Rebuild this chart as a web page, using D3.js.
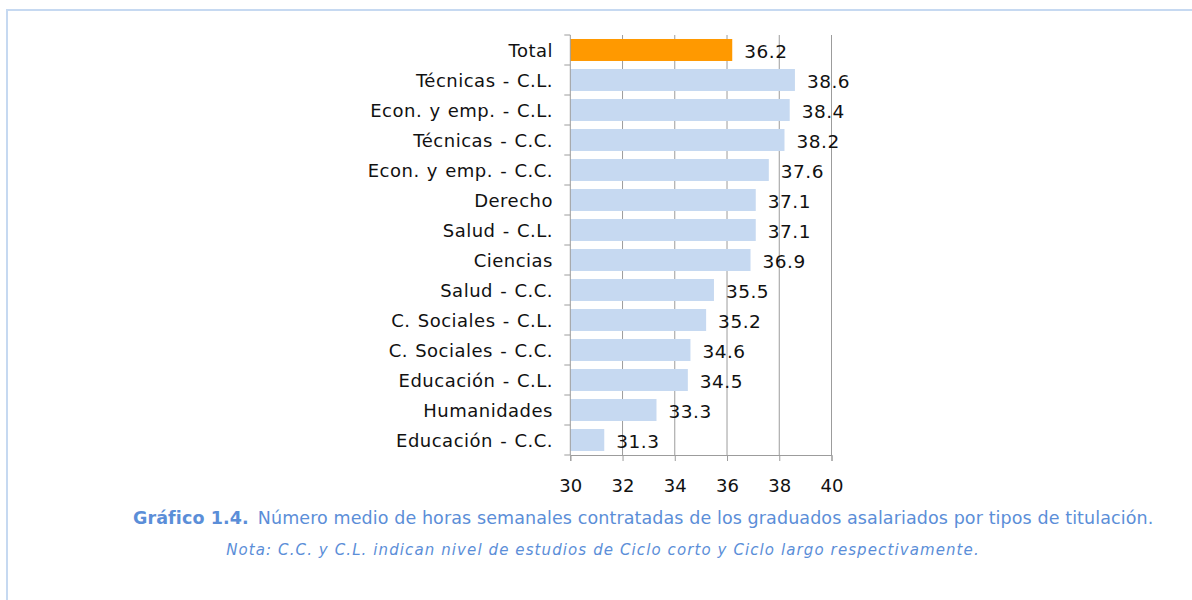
<!DOCTYPE html>
<html>
<head>
<meta charset="utf-8">
<script src="https://cdn.jsdelivr.net/npm/d3@7"></script>
<style>
  body { margin: 0; background: #fff; }
  svg { display: block; font-family: "DejaVu Sans", Verdana, sans-serif; }
</style>
</head>
<body>
<div id="chart"></div>
<script>
// horas semanales contratadas por tipo de titulación
var categories = ['Total', 'Técnicas - C.L.', 'Econ. y emp. - C.L.', 'Técnicas - C.C.',
  'Econ. y emp. - C.C.', 'Derecho', 'Salud - C.L.', 'Ciencias', 'Salud - C.C.',
  'C. Sociales - C.L.', 'C. Sociales - C.C.', 'Educación - C.L.', 'Humanidades', 'Educación - C.C.'];
var hours = [36.2, 38.6, 38.4, 38.2, 37.6, 37.1, 37.1, 36.9, 35.5, 35.2, 34.6, 34.5, 33.3, 31.3];
var xTicks = [30, 32, 34, 36, 38, 40];

var width = 1192;
var height = 600;
var plotLeft = 570.3, plotRight = 831.5, plotTop = 35, plotBottom = 455;
var barColor = '#c6d9f1';
var totalColor = '#ff9900';
var gridColor = '#9c9c9c';
var captionColor = '#5b8ed8';

var svg = d3.select('#chart').append('svg')
  .attr('width', width)
  .attr('height', height);

// frame (top + left edges only)
svg.append('path')
  .attr('d', 'M7,600 V10 H1192')
  .attr('fill', 'none')
  .attr('stroke', '#c6d9f1')
  .attr('stroke-width', 2);

var xScale = d3.scaleLinear()
  .domain([30, 40])
  .range([plotLeft, plotRight]);

var yScale = d3.scaleBand()
  .domain(categories)
  .range([plotTop, plotBottom])
  .paddingInner(0.267)
  .paddingOuter(0.133);

var yBand = d3.scaleBand().domain(categories).range([plotTop, plotBottom]);

// gridlines
svg.append('g')
  .selectAll('line')
  .data(xTicks.slice(1))
  .join('line')
  .attr('x1', d => xScale(d))
  .attr('x2', d => xScale(d))
  .attr('y1', plotTop)
  .attr('y2', plotBottom)
  .attr('stroke', gridColor)
  .attr('stroke-width', 1);

// bars
svg.append('g')
  .selectAll('rect')
  .data(categories)
  .join('rect')
  .attr('x', xScale(30))
  .attr('y', d => yScale(d))
  .attr('width', (d, i) => xScale(hours[i]) - xScale(30))
  .attr('height', yScale.bandwidth())
  .attr('fill', (d, i) => i === 0 ? totalColor : barColor);

// value labels
svg.append('g')
  .selectAll('text')
  .data(categories)
  .join('text')
  .attr('x', (d, i) => xScale(hours[i]) + 12)
  .attr('y', d => yScale(d) + yScale.bandwidth() / 2 + 8)
  .style('font-size', '18.5px')
  .style('letter-spacing', '0.5px')
  .style('fill', '#111')
  .text((d, i) => hours[i].toFixed(1));

// y axis: tick marks at category boundaries
var yAxisG = svg.append('g');
yAxisG.append('line')
  .attr('x1', plotLeft).attr('x2', plotLeft)
  .attr('y1', plotTop).attr('y2', plotBottom)
  .attr('stroke', gridColor);
yAxisG.selectAll('line.tick')
  .data(categories.concat(['end']))
  .join('line')
  .attr('class', 'tick')
  .attr('x1', plotLeft - 6).attr('x2', plotLeft)
  .attr('y1', (d, i) => plotTop + i * yBand.bandwidth())
  .attr('y2', (d, i) => plotTop + i * yBand.bandwidth())
  .attr('stroke', gridColor);
yAxisG.selectAll('text')
  .data(categories)
  .join('text')
  .attr('x', 553)
  .attr('y', d => yBand(d) + yBand.bandwidth() / 2 + 6.5)
  .style('text-anchor', 'end')
  .style('font-size', '18px')
  .style('letter-spacing', '0.5px')
  .style('word-spacing', '1px')
  .style('fill', '#111')
  .text(d => d);

// x axis
var xAxis = d3.axisBottom(xScale)
  .tickValues(xTicks)
  .tickSize(6)
  .tickPadding(18)
  .tickFormat(d3.format('d'));
var xAxisG = svg.append('g')
  .attr('transform', 'translate(0,' + plotBottom + ')')
  .call(xAxis);
xAxisG.select('.domain').attr('stroke', gridColor);
xAxisG.selectAll('.tick line').attr('stroke', gridColor);
xAxisG.selectAll('.tick text')
  .style('font-family', '"DejaVu Sans", Verdana, sans-serif')
  .style('font-size', '18px')
  .style('fill', '#111');

// caption
var caption = svg.append('text')
  .attr('x', 133)
  .attr('y', 524)
  .style('font-size', '17.5px')
  .style('letter-spacing', '0.1px')
  .style('fill', captionColor);
caption.append('tspan')
  .style('font-weight', 'bold')
  .text('Gráfico 1.4.');
caption.append('tspan')
  .attr('dx', 9)
  .text('Número medio de horas semanales contratadas de los graduados asalariados por tipos de titulación.');

svg.append('text')
  .attr('x', 603)
  .attr('y', 555)
  .style('text-anchor', 'middle')
  .style('font-size', '15px')
  .style('letter-spacing', '1.1px')
  .style('font-style', 'italic')
  .style('fill', captionColor)
  .text('Nota: C.C. y C.L. indican nivel de estudios de Ciclo corto y Ciclo largo respectivamente.');
</script>
</body>
</html>
